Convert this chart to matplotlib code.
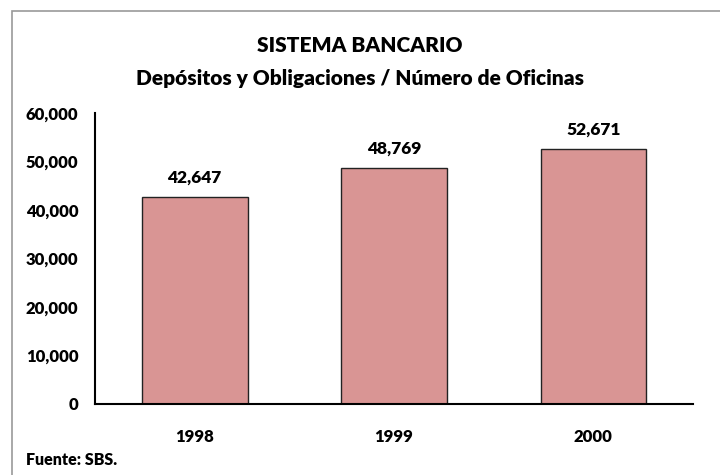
import matplotlib.pyplot as plt
from matplotlib.patches import Rectangle

years = ['1998', '1999', '2000']
values = [42647, 48769, 52671]
y_ticks = [0, 10000, 20000, 30000, 40000, 50000, 60000]

plt.rcParams['font.family'] = ['Lato', 'DejaVu Sans']
W = 'heavy'

fig = plt.figure(figsize=(7.2, 4.75), dpi=100)
ax = fig.add_axes([0.132, 0.1495, 0.8305, 0.6125])

x = range(len(years))
ax.bar(x, values, width=0.53, color='#D99594', edgecolor='#222222', linewidth=1)

for i, v in zip(x, values):
    ax.annotate(f'{v:,}', (i, v), xytext=(0, 8), textcoords='offset points',
                ha='center', va='bottom', fontsize=12.5, fontweight=W)

ax.set_xlim(-0.5, 2.5)
ax.set_ylim(0, 60000)
ax.set_yticks(y_ticks)
ax.set_yticklabels([f'{t:,}' for t in y_ticks])
ax.set_xticks(list(x))
ax.set_xticklabels(years)
ax.tick_params(axis='both', length=0, labelsize=12)
ax.tick_params(axis='y', pad=12)
ax.tick_params(axis='x', pad=18)
for lab in ax.get_xticklabels() + ax.get_yticklabels():
    lab.set_fontweight(W)

ax.spines['top'].set_visible(False)
ax.spines['right'].set_visible(False)
ax.spines['left'].set_linewidth(1.5)
ax.spines['bottom'].set_linewidth(1.5)

fig.text(0.5, 1 - 45 / 475, 'SISTEMA BANCARIO', ha='center', va='center',
         fontsize=15, fontweight=W)
fig.text(0.5, 1 - 78 / 475, 'Depósitos y Obligaciones / Número de Oficinas',
         ha='center', va='center', fontsize=15, fontweight=W)
fig.text(26 / 720, 1 - 460 / 475, 'Fuente: SBS.', ha='left', va='center',
         fontsize=11.5, fontweight=W)

fig.patches.append(Rectangle((12 / 720, -0.1), 1.2, 1 - 11 / 475 + 0.1,
                             transform=fig.transFigure, fill=False,
                             edgecolor='#999999', linewidth=1.2))

fig.savefig('out.png', dpi=100)
